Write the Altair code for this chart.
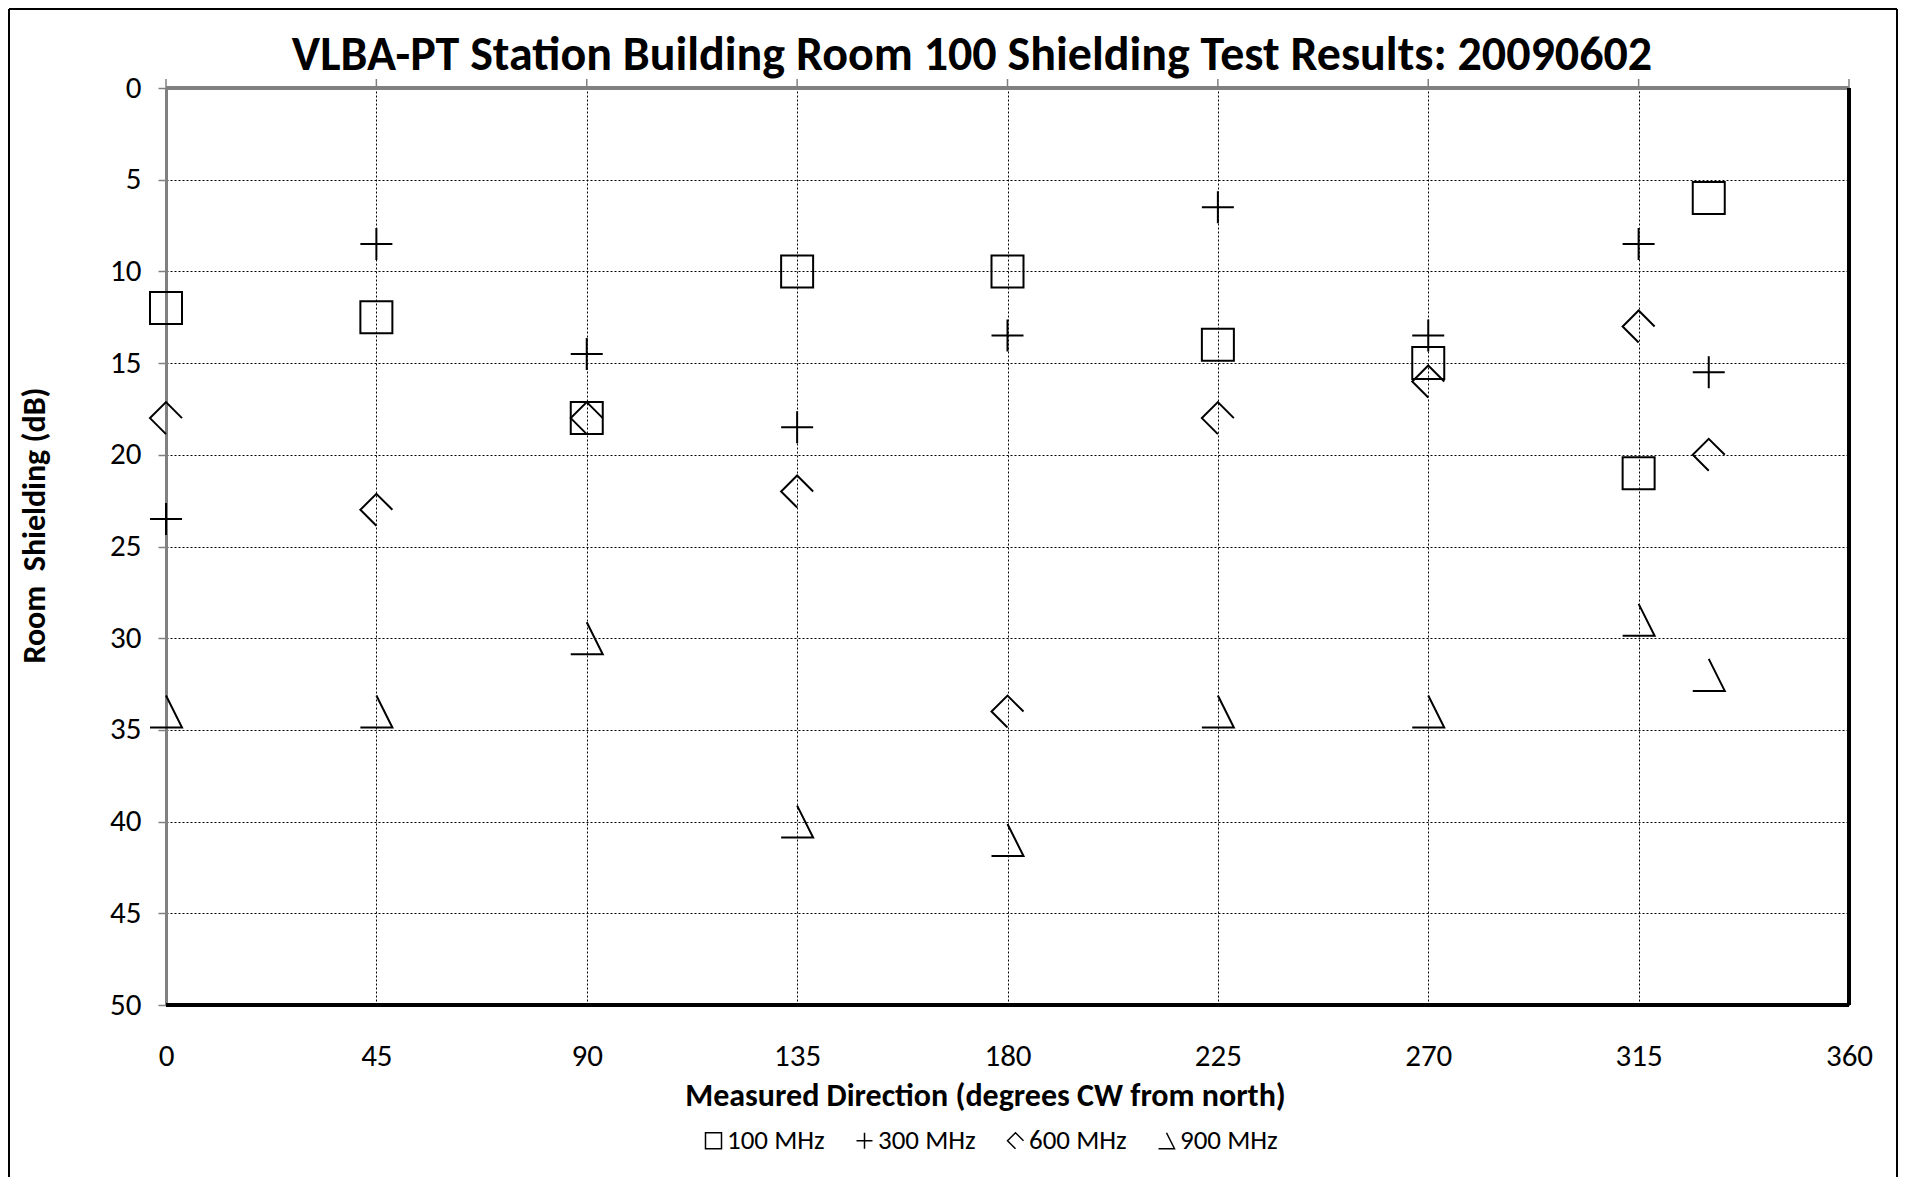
import altair as alt
import pandas as pd

# ---- data ----
directions = [0, 45, 90, 135, 180, 225, 270, 315, 330]
series_names = ["100 MHz", "300 MHz", "600 MHz", "900 MHz"]
s100 = [12, 12.5, 18, 10, 10, 14, 15, 21, 6]
s300 = [23.5, 8.5, 14.5, 18.5, 13.5, 6.5, 13.5, 8.5, 15.5]
s600 = [18, 23, 18, 22, 34, 18, 16, 13, 20]
s900 = [34, 34, 30, 40, 41, 34, 34, 29, 32]
x_ticks = [0, 45, 90, 135, 180, 225, 270, 315, 360]
y_ticks = [0, 5, 10, 15, 20, 25, 30, 35, 40, 45, 50]

title_text = "VLBA-PT Station Building Room 100 Shielding Test Results: 20090602"
x_title = "Measured Direction (degrees CW from north)"
y_title = "Room\u00a0 Shielding (dB)"

rows = []
for name, vals in zip(series_names, [s100, s300, s600, s900]):
    for d, v in zip(directions, vals):
        rows.append({"dir": d, "db": v, "series": name})
df = pd.DataFrame(rows)
tick_df = pd.DataFrame({"t": x_ticks})

F = "Carlito, 'Liberation Sans Narrow', 'Open Sans', sans-serif"
W, H = 1683, 917

shapes = [
    "M-1,-1L1,-1L1,1L-1,1Z",      # square
    "M-1,0L1,0M0,-1L0,1",         # plus
    "M0,1L-1,0L0,-1L1,0",         # broken diamond
    "M0,-1L1,1L-1,1",             # broken triangle
]

xscale = alt.Scale(domain=[0, 360], nice=False, zero=False)
yscale = alt.Scale(domain=[0, 50], reverse=True, nice=False, zero=False)

xaxis = alt.Axis(
    values=x_ticks, grid=True, gridColor="black", gridDash=[2, 2], gridWidth=1,
    ticks=False, domain=False, labelFontSize=31, labelFont=F, labelColor="black",
    labelPadding=51, labelBaseline="middle", labelFlush=False,
    title=x_title, titleFont=F, titleFontSize=32, titleFontWeight="bold",
    titleColor="black", titleX=819, titleY=90, titleBaseline="middle",
    titleAlign="center", titleAnchor="start")
yaxis = alt.Axis(
    values=y_ticks, grid=True, gridColor="black", gridDash=[2, 2], gridWidth=1,
    ticks=True, tickColor="#808080", tickSize=8, tickWidth=1.5,
    domain=True, domainColor="#808080", domainWidth=3,
    labelFontSize=31, labelFont=F, labelColor="black", labelPadding=17,
    labelBaseline="middle", labelFlush=False,
    title=y_title, titleFont=F, titleFontSize=32, titleFontWeight="bold",
    titleColor="black", titleX=-132, titleY=437, titleAngle=270,
    titleBaseline="middle", titleAlign="center", titleAnchor="start")

points = alt.Chart(df).mark_point(
    filled=False, size=1024, strokeWidth=2, color="black", opacity=1
).encode(
    x=alt.X("dir:Q", scale=xscale, axis=xaxis),
    y=alt.Y("db:Q", scale=yscale, axis=yaxis),
    shape=alt.Shape("series:N", scale=alt.Scale(domain=series_names, range=shapes),
                    legend=alt.Legend(
                        orient="none", legendX=534, legendY=1039, direction="horizontal",
                        title=None, symbolSize=256, symbolStrokeWidth=1.5,
                        symbolStrokeColor="black", symbolFillColor="transparent",
                        labelFont=F, labelFontSize=27, labelColor="black",
                        labelOffset=0, columnPadding=26)),
)

top_line = alt.Chart(tick_df).mark_rule(color="#808080", strokeWidth=3).encode(
    x=alt.XDatum(0), x2=alt.X2Datum(360), y=alt.YDatum(0))
top_ticks = alt.Chart(tick_df).mark_rule(color="#808080", strokeWidth=1.5).encode(
    x=alt.X("t:Q"), y=alt.value(-9), y2=alt.value(0))
bottom_line = alt.Chart(tick_df).mark_rule(color="black", strokeWidth=3.5).encode(
    x=alt.XDatum(0), x2=alt.X2Datum(360), y=alt.YDatum(50))
right_line = alt.Chart(tick_df).mark_rule(color="black", strokeWidth=3.5).encode(
    x=alt.XDatum(360), y=alt.YDatum(0), y2=alt.Y2Datum(50))

# outer frame of the figure
frame = alt.Chart(pd.DataFrame({"k": [0]})).mark_rule(color="black", strokeWidth=2)
frame_left = frame.encode(x=alt.value(-157), y=alt.value(-79), y2=alt.value(1100))
frame_right = frame.encode(x=alt.value(1731), y=alt.value(-79), y2=alt.value(1100))
frame_top = frame.encode(x=alt.value(-157), x2=alt.value(1731), y=alt.value(-79))

title = alt.Chart(pd.DataFrame({"k": [0]})).mark_text(
    text=title_text, font=F, fontSize=48, fontWeight="bold", color="black",
    align="center", baseline="middle").encode(x=alt.value(806), y=alt.value(-32))

chart = alt.layer(
    points, top_line, top_ticks, bottom_line, right_line,
    frame_left, frame_right, frame_top, title
).properties(
    width=W, height=H,
    autosize=alt.AutoSizeParams(type="none"),
    padding={"left": 158, "top": 80, "right": 49, "bottom": 172},
    background="white",
).configure_view(stroke=None)

chart.save("out.html", embed_options={"renderer": "svg", "actions": False})
